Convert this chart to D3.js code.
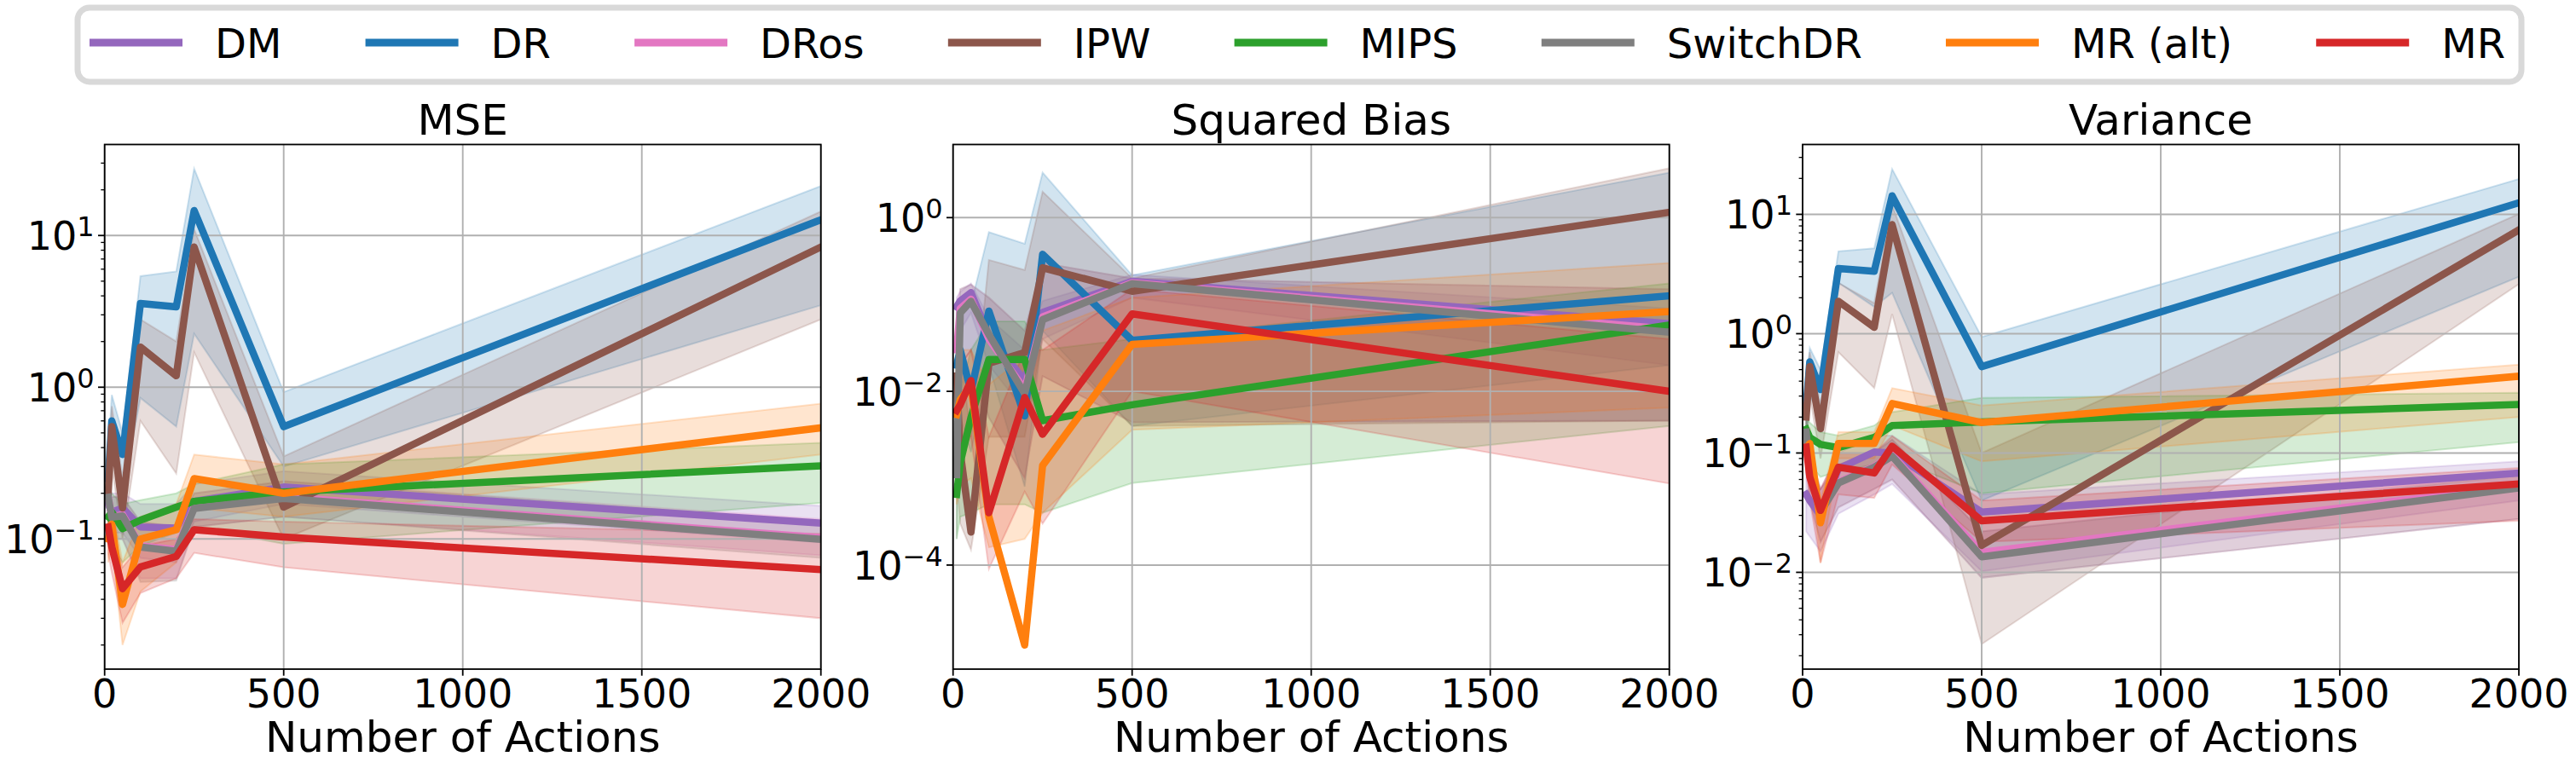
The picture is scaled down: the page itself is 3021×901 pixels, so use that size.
<!DOCTYPE html>
<html>
<head>
<meta charset="utf-8">
<script src="https://cdn.jsdelivr.net/npm/d3@7"></script>
<style>
body { margin: 0; background: #fff; }
svg { display: block; font-family: "DejaVu Sans", sans-serif; }
</style>
</head>
<body>
<div id="chart"></div>
<script>
// x values shared by every panel
var actions = [10, 20, 50, 100, 200, 250, 500, 2000];
var methods = ["DM", "DR", "DRos", "IPW", "MIPS", "SwitchDR", "MR (alt)", "MR"];
var colors = ["#9467bd", "#1f77b4", "#e377c2", "#8c564b", "#2ca02c", "#7f7f7f", "#ff7f0e", "#d62728"];
var xTicks = [0, 500, 1000, 1500, 2000];

// MSE (rows follow methods order)
var mseMean = [
	[0.17, 0.15, 0.16, 0.12, 0.118, 0.177, 0.22, 0.127],
	[0.25, 0.6, 0.36, 3.57, 3.39, 14.6, 0.55, 12.7],
	[0.19, 0.14, 0.145, 0.09, 0.085, 0.162, 0.19, 0.102],
	[0.2, 0.55, 0.16, 1.84, 1.19, 8.4, 0.162, 8.4],
	[0.14, 0.15, 0.117, 0.133, 0.162, 0.177, 0.204, 0.303],
	[0.188, 0.139, 0.142, 0.0885, 0.083, 0.159, 0.185, 0.0995],
	[0.1, 0.125, 0.037, 0.1, 0.115, 0.25, 0.2, 0.54],
	[0.12, 0.0885, 0.047, 0.0654, 0.0767, 0.115, 0.103, 0.0628]
];
var mseLo = [
	[0.13, 0.11, 0.11, 0.075, 0.07, 0.13, 0.17, 0.095],
	[0.15, 0.4, 0.2, 0.85, 0.55, 2.25, 0.3, 3.47],
	[0.14, 0.1, 0.1, 0.055, 0.055, 0.12, 0.14, 0.078],
	[0.12, 0.3, 0.1, 0.6, 0.27, 1.7, 0.1, 2.8],
	[0.1, 0.09, 0.07, 0.09, 0.11, 0.12, 0.093, 0.173],
	[0.14, 0.1, 0.1, 0.052, 0.053, 0.12, 0.14, 0.075],
	[0.07, 0.09, 0.02, 0.045, 0.07, 0.16, 0.14, 0.36],
	[0.08, 0.06, 0.028, 0.044, 0.055, 0.081, 0.065, 0.03]
];
var mseHi = [
	[0.22, 0.2, 0.2, 0.17, 0.17, 0.23, 0.28, 0.165],
	[0.35, 0.89, 0.5, 5.4, 5.8, 27.6, 0.93, 21.2],
	[0.25, 0.19, 0.19, 0.13, 0.12, 0.2, 0.24, 0.135],
	[0.3, 0.75, 0.25, 2.8, 2.0, 11, 0.35, 14.4],
	[0.19, 0.2, 0.17, 0.18, 0.2, 0.23, 0.31, 0.43],
	[0.25, 0.19, 0.19, 0.13, 0.12, 0.2, 0.24, 0.13],
	[0.15, 0.17, 0.07, 0.14, 0.17, 0.36, 0.31, 0.78],
	[0.16, 0.12, 0.065, 0.09, 0.1, 0.135, 0.13, 0.108]
];

// Squared bias
var biasMean = [
	[0.094, 0.11, 0.137, 0.044, 0.0133, 0.081, 0.185, 0.06],
	[0.02, 0.03, 0.01, 0.084, 0.0052, 0.378, 0.0386, 0.126],
	[0.03, 0.09, 0.115, 0.04, 0.0105, 0.072, 0.178, 0.052],
	[0.015, 0.002, 0.00024, 0.021, 0.028, 0.265, 0.142, 1.15],
	[0.00065, 0.0015, 0.005, 0.0233, 0.0233, 0.0046, 0.007, 0.058],
	[0.0011, 0.08, 0.109, 0.045, 0.0094, 0.067, 0.174, 0.048],
	[0.0054, 0.008, 0.0115, 0.00036, 0.000012, 0.0014, 0.0347, 0.083],
	[0.006, 0.007, 0.0133, 0.0004, 0.0085, 0.0032, 0.078, 0.01]
];
var biasLo = [
	[0.024, 0.05, 0.08, 0.02, 0.006, 0.04, 0.12, 0.02],
	[0.003, 0.005, 0.002, 0.02, 0.0008, 0.05, 0.004, 0.02],
	[0.001, 0.02, 0.03, 0.005, 0.001, 0.015, 0.0044, 0.0046],
	[0.001, 0.0003, 0.00015, 0.003, 0.003, 0.04, 0.004, 0.0046],
	[0.0002, 0.00036, 0.0004, 0.0005, 0.0005, 0.0004, 0.00088, 0.004],
	[0.0002, 0.02, 0.03, 0.005, 0.001, 0.015, 0.0044, 0.0046],
	[0.0005, 0.0008, 0.001, 0.00016, 0.0002, 0.0004, 0.0036, 0.0065],
	[0.002, 0.002, 0.003, 0.00009, 0.0007, 0.0003, 0.01, 0.00087]
];
var biasHi = [
	[0.12, 0.14, 0.175, 0.07, 0.03, 0.11, 0.22, 0.09],
	[0.1, 0.12, 0.1, 0.68, 0.5, 3.3, 0.217, 3.3],
	[0.1, 0.15, 0.17, 0.12, 0.05, 0.3, 0.2, 0.15],
	[0.05, 0.03, 0.003, 0.326, 0.25, 1.99, 0.2, 3.7],
	[0.004, 0.01, 0.03, 0.064, 0.064, 0.03, 0.04, 0.175],
	[0.01, 0.15, 0.17, 0.12, 0.05, 0.3, 0.2, 0.15],
	[0.02, 0.03, 0.03, 0.012, 0.025, 0.05, 0.12, 0.3],
	[0.015, 0.02, 0.03, 0.003, 0.03, 0.03, 0.15, 0.04]
];

// Variance
var varMean = [
	[0.045, 0.04, 0.03, 0.074, 0.102, 0.1, 0.032, 0.068],
	[0.25, 0.58, 0.34, 3.52, 3.33, 14.3, 0.53, 12.5],
	[0.14, 0.068, 0.032, 0.057, 0.077, 0.096, 0.0147, 0.053],
	[0.2, 0.53, 0.16, 1.87, 1.13, 8.2, 0.0168, 7.4],
	[0.158, 0.135, 0.118, 0.111, 0.135, 0.17, 0.182, 0.255],
	[0.15, 0.07, 0.032, 0.056, 0.076, 0.094, 0.0135, 0.051],
	[0.11, 0.12, 0.026, 0.12, 0.12, 0.26, 0.18, 0.44],
	[0.112, 0.063, 0.033, 0.076, 0.068, 0.114, 0.027, 0.055]
];
var varLo = [
	[0.022, 0.02, 0.015, 0.031, 0.045, 0.055, 0.0102, 0.04],
	[0.12, 0.3, 0.2, 2.67, 1.68, 2.2, 0.04, 3.0],
	[0.1, 0.04, 0.018, 0.035, 0.05, 0.06, 0.009, 0.028],
	[0.1, 0.3, 0.09, 0.7, 0.35, 1.46, 0.0025, 2.6],
	[0.1, 0.08, 0.063, 0.07, 0.08, 0.09, 0.046, 0.123],
	[0.1, 0.04, 0.018, 0.035, 0.05, 0.06, 0.009, 0.028],
	[0.07, 0.08, 0.012, 0.09, 0.09, 0.17, 0.085, 0.2],
	[0.07, 0.04, 0.012, 0.045, 0.042, 0.08, 0.018, 0.027]
];
var varHi = [
	[0.07, 0.06, 0.05, 0.1, 0.14, 0.14, 0.045, 0.085],
	[0.4, 0.76, 0.5, 4.9, 5.2, 24, 0.94, 19.8],
	[0.2, 0.1, 0.05, 0.08, 0.1, 0.13, 0.022, 0.068],
	[0.35, 0.7, 0.25, 2.67, 1.8, 12, 0.1, 10.1],
	[0.2, 0.18, 0.15, 0.14, 0.17, 0.22, 0.29, 0.32],
	[0.2, 0.1, 0.05, 0.08, 0.1, 0.13, 0.022, 0.065],
	[0.15, 0.16, 0.04, 0.15, 0.15, 0.35, 0.25, 0.55],
	[0.15, 0.09, 0.05, 0.1, 0.1, 0.139, 0.04, 0.075]
];

var mseDomain = [0.01387, 39.8], mseTicks = [0.1, 1, 10];
var biasDomain = [6.34e-6, 6.95], biasTicks = [1e-4, 1e-2, 1];
var varDomain = [0.001545, 38.5], varTicks = [0.01, 0.1, 1, 10];

var W = 3021, H = 901;
var lefts = [122.7, 1117.7, 2114];
var plotW = 840, plotTop = 169.5, plotBottom = 785;
var tickFont = 46, labelFont = 50;

var panels = [
	{title: "MSE", domain: mseDomain, ticks: mseTicks, minor: true, mean: mseMean, lo: mseLo, hi: mseHi},
	{title: "Squared Bias", domain: biasDomain, ticks: biasTicks, minor: false, mean: biasMean, lo: biasLo, hi: biasHi},
	{title: "Variance", domain: varDomain, ticks: varTicks, minor: true, mean: varMean, lo: varLo, hi: varHi}
];

var svg = d3.select("#chart").append("svg")
	.attr("width", W)
	.attr("height", H);

function supText(v) {
	var e = Math.round(Math.log10(v));
	return e < 0 ? "\u2212" + (-e) : "" + e;
}

function drawPanel(p, i) {
	var x0 = lefts[i];
	var xScale = d3.scaleLinear().domain([0, 2000]).range([x0, x0 + plotW]);
	var yScale = d3.scaleLog().domain(p.domain).range([plotBottom, plotTop]);
	var g = svg.append("g").attr("class", "panel");

	g.append("clipPath").attr("id", "clip" + i)
		.append("rect")
		.attr("x", x0).attr("y", plotTop)
		.attr("width", plotW).attr("height", plotBottom - plotTop);

	var area = d3.area()
		.x(function(d) { return xScale(d[0]); })
		.y0(function(d) { return yScale(d[1]); })
		.y1(function(d) { return yScale(d[2]); });
	var line = d3.line()
		.x(function(d) { return xScale(d[0]); })
		.y(function(d) { return yScale(d[1]); });

	var bands = g.append("g").attr("clip-path", "url(#clip" + i + ")");
	methods.forEach(function(m, k) {
		var rows = actions.map(function(a, j) { return [a, p.lo[k][j], p.hi[k][j]]; });
		bands.append("path")
			.attr("d", area(rows))
			.attr("fill", colors[k]).attr("fill-opacity", 0.2)
			.attr("stroke", colors[k]).attr("stroke-opacity", 0.2)
			.attr("stroke-width", 2);
	});

	// grid sits above the bands, below the lines
	var grid = g.append("g");
	xTicks.forEach(function(t) {
		grid.append("line")
			.attr("x1", xScale(t)).attr("x2", xScale(t))
			.attr("y1", plotTop).attr("y2", plotBottom)
			.attr("stroke", "#b0b0b0").attr("stroke-width", 1.9);
	});
	p.ticks.forEach(function(t) {
		grid.append("line")
			.attr("x1", x0).attr("x2", x0 + plotW)
			.attr("y1", yScale(t)).attr("y2", yScale(t))
			.attr("stroke", "#b0b0b0").attr("stroke-width", 1.9);
	});

	var lines = g.append("g").attr("clip-path", "url(#clip" + i + ")");
	methods.forEach(function(m, k) {
		var rows = actions.map(function(a, j) { return [a, p.mean[k][j]]; });
		lines.append("path")
			.attr("d", line(rows))
			.attr("fill", "none")
			.attr("stroke", colors[k])
			.attr("stroke-width", 8.5)
			.attr("stroke-linejoin", "round")
			.attr("stroke-linecap", "square");
	});

	g.append("rect")
		.attr("x", x0).attr("y", plotTop)
		.attr("width", plotW).attr("height", plotBottom - plotTop)
		.attr("fill", "none").attr("stroke", "#000").attr("stroke-width", 1.8);

	// minor ticks on the log axis
	if (p.minor) {
		var lo = Math.floor(Math.log10(p.domain[0])), hi = Math.ceil(Math.log10(p.domain[1]));
		for (var d = lo; d <= hi; d++) {
			for (var m = 2; m <= 9; m++) {
				var v = m * Math.pow(10, d);
				if (v < p.domain[0] || v > p.domain[1]) continue;
				g.append("line")
					.attr("x1", x0 - 4.4).attr("x2", x0)
					.attr("y1", yScale(v)).attr("y2", yScale(v))
					.attr("stroke", "#000").attr("stroke-width", 1.3);
			}
		}
	}

	p.ticks.forEach(function(t) {
		var y = yScale(t);
		g.append("line")
			.attr("x1", x0 - 7.7).attr("x2", x0)
			.attr("y1", y).attr("y2", y)
			.attr("stroke", "#000").attr("stroke-width", 1.8);
		var txt = g.append("text")
			.attr("x", x0 - 12).attr("y", y + 17)
			.attr("text-anchor", "end")
			.style("font-size", tickFont + "px");
		txt.append("tspan").text("10");
		txt.append("tspan").attr("dy", -16).style("font-size", "32px").text(supText(t));
	});

	xTicks.forEach(function(t) {
		var x = xScale(t);
		g.append("line")
			.attr("x1", x).attr("x2", x)
			.attr("y1", plotBottom).attr("y2", plotBottom + 7.7)
			.attr("stroke", "#000").attr("stroke-width", 1.8);
		g.append("text")
			.attr("x", x).attr("y", 830)
			.attr("text-anchor", "middle")
			.style("font-size", tickFont + "px")
			.text(t);
	});

	g.append("text")
		.attr("x", x0 + plotW / 2).attr("y", 882)
		.attr("text-anchor", "middle")
		.style("font-size", labelFont + "px")
		.text("Number of Actions");

	g.append("text")
		.attr("x", x0 + plotW / 2).attr("y", 158)
		.attr("text-anchor", "middle")
		.style("font-size", labelFont + "px")
		.text(p.title);
}

panels.forEach(drawPanel);

// legend across the top
var legend = svg.append("g").attr("class", "legend");
legend.append("rect")
	.attr("x", 91).attr("y", 9)
	.attr("width", 2866).attr("height", 87)
	.attr("rx", 14)
	.attr("fill", "#fff")
	.attr("stroke", "#d9d9d9")
	.attr("stroke-width", 7);

var handleStart = 105, handleLen = 109, handlePad = 38, legendEnd = 2938;
var labels = methods.map(function(m) {
	return legend.append("text")
		.attr("y", 67.5)
		.style("font-size", "48px")
		.text(m);
});
var textW = labels.map(function(t) { return t.node().getComputedTextLength(); });
var colSpace = (legendEnd - handleStart - methods.length * (handleLen + handlePad) - d3.sum(textW)) / (methods.length - 1);
var cx = handleStart;
methods.forEach(function(m, k) {
	legend.append("line")
		.attr("x1", cx).attr("x2", cx + handleLen)
		.attr("y1", 50).attr("y2", 50)
		.attr("stroke", colors[k]).attr("stroke-width", 9);
	labels[k].attr("x", cx + handleLen + handlePad);
	cx += handleLen + handlePad + textW[k] + colSpace;
});
</script>
</body>
</html>
